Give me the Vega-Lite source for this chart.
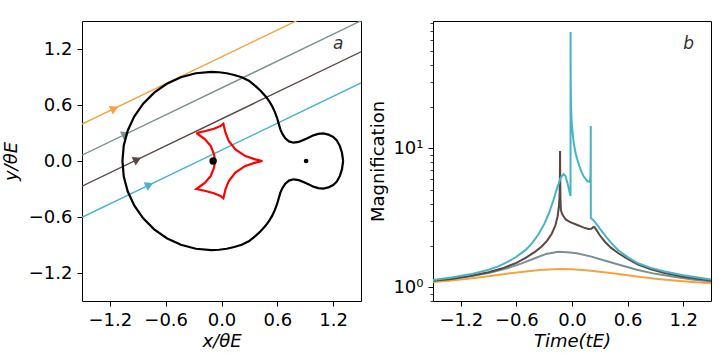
{
  "$schema": "https://vega.github.io/schema/vega-lite/v6.json",
  "background": "white",
  "padding": {"left": 1, "top": 20, "right": 5, "bottom": 0},
  "spacing": 7,
  "config": {
    "view": {"stroke": "black", "strokeWidth": 1},
    "axis": {"domain": false, "grid": false, "ticks": true, "tickSize": 5, "tickColor": "black", "tickWidth": 1,
      "labelFont": "DejaVu Sans", "labelFontSize": 18, "labelColor": "black", "labelPadding": 5,
      "titleFont": "DejaVu Sans", "titleFontSize": 18, "titleFontWeight": "normal", "titleColor": "black"}
  },
  "datasets": {
    "traj": [
      {"traj": "o", "x": -1.5, "y": 0.395}, {"traj": "o", "x": 1.5, "y": 1.835},
      {"traj": "g", "x": -1.5, "y": 0.062}, {"traj": "g", "x": 1.5, "y": 1.502},
      {"traj": "b", "x": -1.5, "y": -0.27}, {"traj": "b", "x": 1.5, "y": 1.17},
      {"traj": "c", "x": -1.5, "y": -0.603}, {"traj": "c", "x": 1.5, "y": 0.837}
    ],
    "arrows": [
      {"traj": "o", "x": -1.15, "y": 0.563},
      {"traj": "g", "x": -1.03, "y": 0.288},
      {"traj": "b", "x": -0.905, "y": 0.016},
      {"traj": "c", "x": -0.775, "y": -0.255}
    ],
    "crit": [
      {"i": 1, "x": 1.308, "y": 0}, {"i": 2, "x": 1.295, "y": 0.09}, {"i": 3, "x": 1.273, "y": 0.16},
      {"i": 4, "x": 1.24, "y": 0.22}, {"i": 5, "x": 1.201, "y": 0.257}, {"i": 6, "x": 1.15, "y": 0.283},
      {"i": 7, "x": 1.094, "y": 0.296}, {"i": 8, "x": 1.04, "y": 0.29}, {"i": 9, "x": 0.988, "y": 0.275},
      {"i": 10, "x": 0.935, "y": 0.25}, {"i": 11, "x": 0.881, "y": 0.225}, {"i": 12, "x": 0.83, "y": 0.205},
      {"i": 13, "x": 0.775, "y": 0.196}, {"i": 14, "x": 0.725, "y": 0.21}, {"i": 15, "x": 0.686, "y": 0.243},
      {"i": 16, "x": 0.655, "y": 0.29}, {"i": 17, "x": 0.633, "y": 0.339}, {"i": 18, "x": 0.615, "y": 0.4},
      {"i": 19, "x": 0.597, "y": 0.463}, {"i": 20, "x": 0.573, "y": 0.527}, {"i": 21, "x": 0.544, "y": 0.588},
      {"i": 22, "x": 0.51, "y": 0.645}, {"i": 23, "x": 0.473, "y": 0.695}, {"i": 24, "x": 0.42, "y": 0.752},
      {"i": 25, "x": 0.366, "y": 0.802}, {"i": 26, "x": 0.294, "y": 0.86}, {"i": 27, "x": 0.217, "y": 0.898},
      {"i": 28, "x": 0.137, "y": 0.922}, {"i": 29, "x": 0.056, "y": 0.94}, {"i": 30, "x": -0.027, "y": 0.951},
      {"i": 31, "x": -0.11, "y": 0.955}, {"i": 32, "x": -0.276, "y": 0.94}, {"i": 33, "x": -0.437, "y": 0.898},
      {"i": 34, "x": -0.588, "y": 0.827}, {"i": 35, "x": -0.724, "y": 0.732}, {"i": 36, "x": -0.842, "y": 0.614},
      {"i": 37, "x": -0.937, "y": 0.478}, {"i": 38, "x": -1.008, "y": 0.327}, {"i": 39, "x": -1.051, "y": 0.166},
      {"i": 40, "x": -1.065, "y": 0},
      {"i": 41, "x": -1.051, "y": -0.166}, {"i": 42, "x": -1.008, "y": -0.327}, {"i": 43, "x": -0.937, "y": -0.478},
      {"i": 44, "x": -0.842, "y": -0.614}, {"i": 45, "x": -0.724, "y": -0.732}, {"i": 46, "x": -0.588, "y": -0.827},
      {"i": 47, "x": -0.437, "y": -0.898}, {"i": 48, "x": -0.276, "y": -0.94}, {"i": 49, "x": -0.11, "y": -0.955},
      {"i": 50, "x": -0.027, "y": -0.951}, {"i": 51, "x": 0.056, "y": -0.94}, {"i": 52, "x": 0.137, "y": -0.922},
      {"i": 53, "x": 0.217, "y": -0.898}, {"i": 54, "x": 0.294, "y": -0.86}, {"i": 55, "x": 0.366, "y": -0.802},
      {"i": 56, "x": 0.42, "y": -0.752}, {"i": 57, "x": 0.473, "y": -0.695}, {"i": 58, "x": 0.51, "y": -0.645},
      {"i": 59, "x": 0.544, "y": -0.588}, {"i": 60, "x": 0.573, "y": -0.527}, {"i": 61, "x": 0.597, "y": -0.463},
      {"i": 62, "x": 0.615, "y": -0.4}, {"i": 63, "x": 0.633, "y": -0.339}, {"i": 64, "x": 0.655, "y": -0.29},
      {"i": 65, "x": 0.686, "y": -0.243}, {"i": 66, "x": 0.725, "y": -0.21}, {"i": 67, "x": 0.775, "y": -0.196},
      {"i": 68, "x": 0.83, "y": -0.205}, {"i": 69, "x": 0.881, "y": -0.225}, {"i": 70, "x": 0.935, "y": -0.25},
      {"i": 71, "x": 0.988, "y": -0.275}, {"i": 72, "x": 1.04, "y": -0.29}, {"i": 73, "x": 1.094, "y": -0.296},
      {"i": 74, "x": 1.15, "y": -0.283}, {"i": 75, "x": 1.201, "y": -0.257}, {"i": 76, "x": 1.24, "y": -0.22},
      {"i": 77, "x": 1.273, "y": -0.16}, {"i": 78, "x": 1.295, "y": -0.09}, {"i": 79, "x": 1.308, "y": 0}
    ],
    "caus": [
      {"i": 1, "x": -0.27, "y": 0.3}, {"i": 2, "x": -0.171, "y": 0.321}, {"i": 3, "x": -0.082, "y": 0.346},
      {"i": 4, "x": -0.011, "y": 0.374}, {"i": 5, "x": 0.02, "y": 0.4}, {"i": 6, "x": 0.043, "y": 0.303},
      {"i": 7, "x": 0.078, "y": 0.214}, {"i": 8, "x": 0.149, "y": 0.125}, {"i": 9, "x": 0.256, "y": 0.053},
      {"i": 10, "x": 0.363, "y": 0.018}, {"i": 11, "x": 0.44, "y": 0}, {"i": 12, "x": 0.363, "y": -0.018},
      {"i": 13, "x": 0.256, "y": -0.053}, {"i": 14, "x": 0.149, "y": -0.125}, {"i": 15, "x": 0.078, "y": -0.214},
      {"i": 16, "x": 0.043, "y": -0.303}, {"i": 17, "x": 0.02, "y": -0.4}, {"i": 18, "x": -0.011, "y": -0.374},
      {"i": 19, "x": -0.082, "y": -0.346}, {"i": 20, "x": -0.171, "y": -0.321}, {"i": 21, "x": -0.27, "y": -0.3},
      {"i": 22, "x": -0.18, "y": -0.235}, {"i": 23, "x": -0.115, "y": -0.16}, {"i": 24, "x": -0.08, "y": -0.07},
      {"i": 25, "x": -0.07, "y": 0}, {"i": 26, "x": -0.08, "y": 0.07}, {"i": 27, "x": -0.115, "y": 0.16},
      {"i": 28, "x": -0.18, "y": 0.235}, {"i": 29, "x": -0.27, "y": 0.3}
    ],
    "lens": [
      {"x": -0.09, "y": 0, "m": 0.91},
      {"x": 0.91, "y": 0, "m": 0.09}
    ],
    "lc": [
      {"traj": "o", "t": -1.5, "A": 1.09}, {"traj": "o", "t": -1.3, "A": 1.12}, {"traj": "o", "t": -1.1, "A": 1.158},
      {"traj": "o", "t": -0.9, "A": 1.203}, {"traj": "o", "t": -0.7, "A": 1.253}, {"traj": "o", "t": -0.5, "A": 1.302},
      {"traj": "o", "t": -0.35, "A": 1.332}, {"traj": "o", "t": -0.2, "A": 1.35}, {"traj": "o", "t": -0.12, "A": 1.353},
      {"traj": "o", "t": 0.0, "A": 1.347}, {"traj": "o", "t": 0.15, "A": 1.327}, {"traj": "o", "t": 0.3, "A": 1.295},
      {"traj": "o", "t": 0.5, "A": 1.246}, {"traj": "o", "t": 0.7, "A": 1.197}, {"traj": "o", "t": 0.9, "A": 1.154},
      {"traj": "o", "t": 1.1, "A": 1.119}, {"traj": "o", "t": 1.3, "A": 1.092}, {"traj": "o", "t": 1.5, "A": 1.071},

      {"traj": "g", "t": -1.5, "A": 1.12}, {"traj": "g", "t": -1.3, "A": 1.155}, {"traj": "g", "t": -1.1, "A": 1.2},
      {"traj": "g", "t": -0.9, "A": 1.27}, {"traj": "g", "t": -0.7, "A": 1.37}, {"traj": "g", "t": -0.55, "A": 1.48},
      {"traj": "g", "t": -0.4, "A": 1.62}, {"traj": "g", "t": -0.28, "A": 1.74}, {"traj": "g", "t": -0.15, "A": 1.8},
      {"traj": "g", "t": -0.05, "A": 1.79}, {"traj": "g", "t": 0.05, "A": 1.76}, {"traj": "g", "t": 0.2, "A": 1.67},
      {"traj": "g", "t": 0.35, "A": 1.56}, {"traj": "g", "t": 0.5, "A": 1.46}, {"traj": "g", "t": 0.7, "A": 1.34},
      {"traj": "g", "t": 0.9, "A": 1.25}, {"traj": "g", "t": 1.1, "A": 1.19}, {"traj": "g", "t": 1.3, "A": 1.14},
      {"traj": "g", "t": 1.5, "A": 1.1},

      {"traj": "b", "t": -1.5, "A": 1.115}, {"traj": "b", "t": -1.3, "A": 1.15}, {"traj": "b", "t": -1.1, "A": 1.205},
      {"traj": "b", "t": -0.9, "A": 1.285}, {"traj": "b", "t": -0.75, "A": 1.37}, {"traj": "b", "t": -0.6, "A": 1.5},
      {"traj": "b", "t": -0.5, "A": 1.63}, {"traj": "b", "t": -0.4, "A": 1.8}, {"traj": "b", "t": -0.33, "A": 1.96},
      {"traj": "b", "t": -0.27, "A": 2.16}, {"traj": "b", "t": -0.22, "A": 2.42}, {"traj": "b", "t": -0.18, "A": 2.78},
      {"traj": "b", "t": -0.155, "A": 3.25}, {"traj": "b", "t": -0.14, "A": 3.9}, {"traj": "b", "t": -0.133, "A": 4.8},
      {"traj": "b", "t": -0.1305, "A": 6.5}, {"traj": "b", "t": -0.129, "A": 9.6}, {"traj": "b", "t": -0.127, "A": 6.0},
      {"traj": "b", "t": -0.124, "A": 4.3}, {"traj": "b", "t": -0.12, "A": 3.6}, {"traj": "b", "t": -0.105, "A": 3.35},
      {"traj": "b", "t": -0.068, "A": 3.08}, {"traj": "b", "t": -0.02, "A": 2.95}, {"traj": "b", "t": 0.058, "A": 2.81},
      {"traj": "b", "t": 0.12, "A": 2.7}, {"traj": "b", "t": 0.176, "A": 2.63}, {"traj": "b", "t": 0.21, "A": 2.64},
      {"traj": "b", "t": 0.232, "A": 2.72}, {"traj": "b", "t": 0.245, "A": 2.7}, {"traj": "b", "t": 0.265, "A": 2.58},
      {"traj": "b", "t": 0.3, "A": 2.37}, {"traj": "b", "t": 0.355, "A": 2.13}, {"traj": "b", "t": 0.42, "A": 1.93},
      {"traj": "b", "t": 0.5, "A": 1.76}, {"traj": "b", "t": 0.6, "A": 1.6}, {"traj": "b", "t": 0.713, "A": 1.46},
      {"traj": "b", "t": 0.85, "A": 1.35}, {"traj": "b", "t": 1.0, "A": 1.27}, {"traj": "b", "t": 1.2, "A": 1.19},
      {"traj": "b", "t": 1.5, "A": 1.12},

      {"traj": "c", "t": -1.5, "A": 1.13}, {"traj": "c", "t": -1.3, "A": 1.175}, {"traj": "c", "t": -1.1, "A": 1.24},
      {"traj": "c", "t": -0.9, "A": 1.34}, {"traj": "c", "t": -0.79, "A": 1.42}, {"traj": "c", "t": -0.7, "A": 1.52},
      {"traj": "c", "t": -0.6, "A": 1.66}, {"traj": "c", "t": -0.5, "A": 1.86}, {"traj": "c", "t": -0.43, "A": 2.08},
      {"traj": "c", "t": -0.36, "A": 2.42}, {"traj": "c", "t": -0.3, "A": 2.85}, {"traj": "c", "t": -0.25, "A": 3.4},
      {"traj": "c", "t": -0.2, "A": 4.25}, {"traj": "c", "t": -0.16, "A": 5.2}, {"traj": "c", "t": -0.12, "A": 6.2},
      {"traj": "c", "t": -0.09, "A": 6.55}, {"traj": "c", "t": -0.07, "A": 6.3},
      {"traj": "c", "t": -0.045, "A": 5.5}, {"traj": "c", "t": -0.025, "A": 4.8}, {"traj": "c", "t": -0.016, "A": 4.55},
      {"traj": "c", "t": -0.0155, "A": 69}, {"traj": "c", "t": -0.014, "A": 30}, {"traj": "c", "t": -0.011, "A": 21},
      {"traj": "c", "t": -0.005, "A": 16}, {"traj": "c", "t": 0.004, "A": 13.5}, {"traj": "c", "t": 0.02, "A": 10.8},
      {"traj": "c", "t": 0.04, "A": 9.2}, {"traj": "c", "t": 0.065, "A": 8.0}, {"traj": "c", "t": 0.094, "A": 7.0},
      {"traj": "c", "t": 0.125, "A": 6.3}, {"traj": "c", "t": 0.165, "A": 5.82}, {"traj": "c", "t": 0.185, "A": 5.75},
      {"traj": "c", "t": 0.195, "A": 5.95}, {"traj": "c", "t": 0.199, "A": 6.4}, {"traj": "c", "t": 0.2015, "A": 8.5},
      {"traj": "c", "t": 0.2025, "A": 14.5}, {"traj": "c", "t": 0.203, "A": 3.15}, {"traj": "c", "t": 0.237, "A": 3.02},
      {"traj": "c", "t": 0.3, "A": 2.65}, {"traj": "c", "t": 0.355, "A": 2.38}, {"traj": "c", "t": 0.42, "A": 2.1},
      {"traj": "c", "t": 0.5, "A": 1.85}, {"traj": "c", "t": 0.6, "A": 1.65}, {"traj": "c", "t": 0.713, "A": 1.49},
      {"traj": "c", "t": 0.85, "A": 1.38}, {"traj": "c", "t": 1.0, "A": 1.3}, {"traj": "c", "t": 1.2, "A": 1.22},
      {"traj": "c", "t": 1.5, "A": 1.14}
    ]
  },
  "hconcat": [
    {
      "width": 279,
      "height": 280,
      "layer": [
        {
          "data": {"name": "traj"},
          "mark": {"type": "line", "strokeWidth": 1.4, "clip": true},
          "encoding": {
            "x": {"field": "x", "type": "quantitative",
              "scale": {"domain": [-1.5, 1.5], "nice": false, "zero": false},
              "axis": {"values": [-1.2, -0.6, 0, 0.6, 1.2], "format": ".1f", "title": "x/θE", "titleFontStyle": "italic", "titlePadding": 3}},
            "y": {"field": "y", "type": "quantitative",
              "scale": {"domain": [-1.5, 1.5], "nice": false, "zero": false},
              "axis": {"values": [-1.2, -0.6, 0, 0.6, 1.2], "format": ".1f", "title": "y/θE", "titleFontStyle": "italic", "titlePadding": 8}},
            "detail": {"field": "traj"},
            "color": {"field": "traj", "type": "nominal", "scale": {"domain": ["o", "g", "b", "c"], "range": ["#f4a340", "#7b9090", "#5a4843", "#45b4c5"]}, "legend": null}
          }
        },
        {
          "data": {"name": "arrows"},
          "mark": {"type": "point", "filled": true, "shape": "triangle-right", "angle": 334.4, "size": 90, "opacity": 1},
          "encoding": {
            "x": {"field": "x", "type": "quantitative"},
            "y": {"field": "y", "type": "quantitative"},
            "color": {"field": "traj", "type": "nominal", "scale": {"domain": ["o", "g", "b", "c"], "range": ["#f4a340", "#7b9090", "#5a4843", "#45b4c5"]}, "legend": null}
          }
        },
        {
          "data": {"name": "crit"},
          "mark": {"type": "line", "color": "black", "strokeWidth": 2.2},
          "encoding": {
            "x": {"field": "x", "type": "quantitative"},
            "y": {"field": "y", "type": "quantitative"},
            "order": {"field": "i", "type": "quantitative"}
          }
        },
        {
          "data": {"name": "caus"},
          "mark": {"type": "line", "color": "red", "strokeWidth": 2.2},
          "encoding": {
            "x": {"field": "x", "type": "quantitative"},
            "y": {"field": "y", "type": "quantitative"},
            "order": {"field": "i", "type": "quantitative"}
          }
        },
        {
          "data": {"name": "lens"},
          "mark": {"type": "point", "filled": true, "color": "black", "opacity": 1},
          "encoding": {
            "x": {"field": "x", "type": "quantitative"},
            "y": {"field": "y", "type": "quantitative"},
            "size": {"field": "m", "type": "quantitative", "scale": {"domain": [0.09, 0.91], "range": [22, 55]}, "legend": null}
          }
        },
        {
          "data": {"values": [{"label": "a"}]},
          "mark": {"type": "text", "align": "left", "baseline": "alphabetic", "fontStyle": "italic", "fontSize": 17, "font": "DejaVu Sans", "color": "#333333"},
          "encoding": {
            "x": {"datum": 1.2, "type": "quantitative"},
            "y": {"datum": 1.2, "type": "quantitative"},
            "text": {"field": "label", "type": "nominal"}
          }
        }
      ]
    },
    {
      "width": 278,
      "height": 280,
      "layer": [
        {
          "data": {"name": "lc"},
          "mark": {"type": "line", "strokeWidth": 2, "clip": true},
          "encoding": {
            "x": {"field": "t", "type": "quantitative",
              "scale": {"domain": [-1.5, 1.5], "nice": false, "zero": false},
              "axis": {"values": [-1.2, -0.6, 0, 0.6, 1.2], "format": ".1f", "title": "Time(tE)", "titleFontStyle": "italic", "titlePadding": 3}},
            "y": {"field": "A", "type": "quantitative",
              "scale": {"type": "log", "domain": [0.797, 82.8], "nice": false, "zero": false},
              "axis": {"values": [1, 10], "labelExpr": "datum.value >= 10 ? '10¹' : '10⁰'", "title": "Magnification", "titlePadding": 5}},
            "color": {"field": "traj", "type": "nominal", "scale": {"domain": ["o", "g", "b", "c"], "range": ["#f4a340", "#7b9090", "#5a4843", "#45b4c5"]}, "legend": null},
            "detail": {"field": "traj"}
          }
        },
        {
          "data": {"values": [{"label": "b"}]},
          "mark": {"type": "text", "align": "left", "baseline": "alphabetic", "fontStyle": "italic", "fontSize": 17, "font": "DejaVu Sans", "color": "#333333"},
          "encoding": {
            "x": {"datum": 1.2, "type": "quantitative"},
            "y": {"datum": 52, "type": "quantitative",
              "axis": {"orient": "left", "values": [0.8, 0.9, 2, 3, 4, 5, 6, 7, 8, 9, 20, 30, 40, 50, 60, 70, 80], "labels": false, "title": null, "tickSize": 3, "tickWidth": 0.8, "domain": false, "grid": false}},
            "text": {"field": "label"}
          }
        }
      ],
      "resolve": {"axis": {"y": "independent"}}
    }
  ]
}
